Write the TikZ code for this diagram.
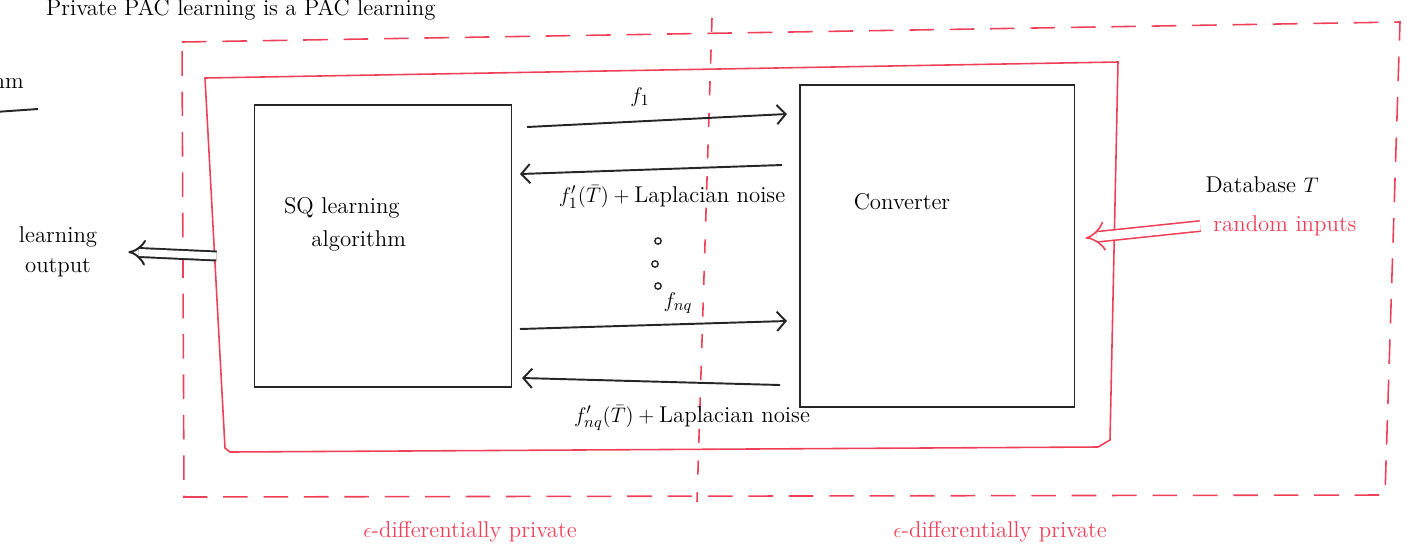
\documentclass[tikz,border=0pt]{standalone}
\usepackage{amsmath, amssymb}
\usetikzlibrary{arrows.meta, positioning, calc}
\definecolor{penred}{RGB}{238,64,88}

\begin{document}
\begin{tikzpicture}[x=0.02cm, y=-0.02cm, font=\fontsize{13}{15}\selectfont,
    blk/.style={line width=1.1pt, black!85},
    redline/.style={line width=0.9pt, penred},
    reddash/.style={redline, dash pattern=on 14pt off 9pt},
    msg/.style={blk, -{Straight Barb[length=5pt, width=11pt]}},
    box/.style={blk, draw, inner sep=0pt}]
    \useasboundingbox (0,0) rectangle (1407,559);

    \node[anchor=base west] (title) at (40,15) {Private PAC learning is a PAC learning};
    \node[anchor=base east] (algo) at (30,88) {algorithm};
    \coordinate (cutl) at (-5,112);
    \coordinate (cutr) at (38,109);
    \draw[blk] (cutl) -- (cutr);

    \draw[reddash] (182,42) -- (1400,22) -- (1385,495) -- (184,497) -- cycle;
    \draw[reddash, dash pattern=on 8pt off 10pt] (712,18) -- (697,502);
    \draw[redline] (205,78) -- (1118,62) -- (1110,440) -- (1098,447) -- (230,452) -- (225,448) -- cycle;

    \node[box, minimum width=5.14cm, minimum height=5.64cm] (sq) at (383,246) {};
    \node[box, minimum width=5.5cm, minimum height=6.44cm] (conv) at (937,246) {};
    \node[align=left] (sqlabel) at (345,224) {SQ learning\\[4pt]\hspace*{1.2em}algorithm};
    \node (convlabel) at (902,202) {Converter};

    \coordinate (q1a) at (527,127);
    \coordinate (q1b) at (787,114);
    \coordinate (a1a) at (782,165);
    \coordinate (a1b) at (520,174);
    \coordinate (q2a) at (520,329);
    \coordinate (q2b) at (787,321);
    \coordinate (a2a) at (780,385);
    \coordinate (a2b) at (522,378);
    \draw[msg] (q1a) -- (q1b);
    \draw[msg] (a1a) -- (a1b);
    \draw[msg] (q2a) -- (q2b);
    \draw[msg] (a2a) -- (a2b);
    \node (f1) at (640,97) {$f_1$};
    \node (r1) at (672,197) {$f_1'(\bar{T}) + \text{Laplacian noise}$};
    \node (fq) at (678,303) {$f_{nq}$};
    \node (rq) at (692,418) {$f_{nq}'(\bar{T}) + \text{Laplacian noise}$};
    \foreach \y/\x in {241/658, 264/655, 286/658}
        \draw[blk, line width=0.8pt] (\x,\y) circle (1.8pt);

    \node[align=center] (out) at (58,252) {learning\\[2pt]output};
    \draw[blk, double, double distance=4pt, -Implies] ([xshift=-0.74cm, yshift=-0.2cm]sq.west) -- ([xshift=0.5cm]out.east);

    \node (db) at (1262,185) {Database $T$};
    \node[text=penred] (rnd) at (1285,226) {random inputs};
    \draw[redline, double, double distance=5pt, -Implies] ([xshift=-4pt]rnd.west) -- ([xshift=0.2cm, yshift=0.16cm]conv.east);

    \node[text=penred] (dp1) at (470,532) {$\epsilon$-differentially private};
    \node[text=penred] (dp2) at (1000,532) {$\epsilon$-differentially private};
\end{tikzpicture}
\end{document}
